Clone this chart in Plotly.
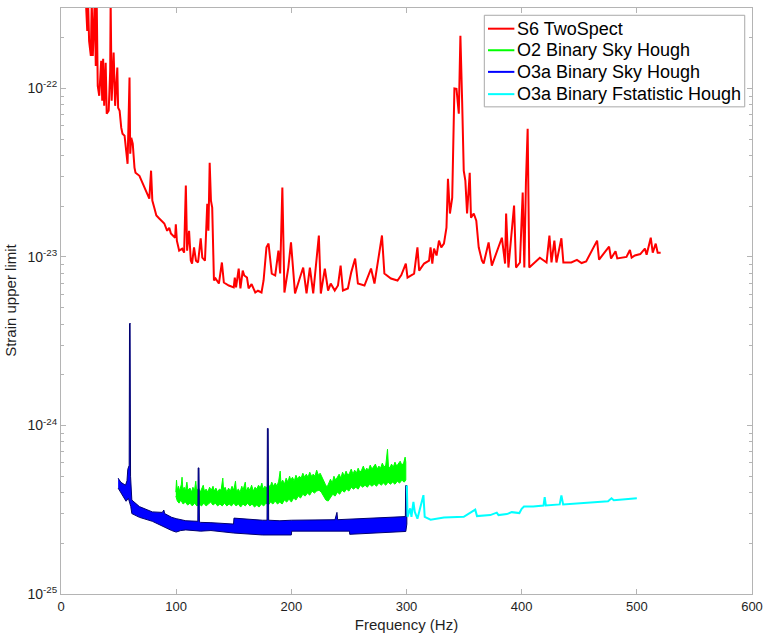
import plotly.graph_objects as go

# ---------------- S6 TwoSpect upper limits ----------------
red_freq = [20.0, 21.6, 22.8, 23.5, 24.4, 25.9, 26.7, 27.6, 29.3, 30.2, 31.0, 31.9, 33.2, 34.9, 35.8,
            36.6, 37.5, 38.8, 39.7, 41.4, 42.7, 43.1, 44.0, 45.7, 47.0, 48.9, 49.6, 50.9, 52.3, 53.4,
            55.2, 56.6, 57.8, 59.5, 60.1, 61.0, 62.3, 63.8, 64.7, 68.1, 70.7, 73.9, 76.7, 78.2, 79.3,
            81.0, 82.8, 85.3, 89.7, 92.2, 94.0, 95.4, 99.1, 99.7, 100.6, 102.6, 105.2, 106.9, 108.4,
            109.5, 111.2, 112.7, 113.8, 115.5, 117.2, 119.0, 121.3, 122.7, 125.0, 127.0, 128.0, 129.1,
            130.2, 131.3, 132.8, 134.2, 137.1, 139.7, 141.4, 145.7, 150.0, 150.9, 152.0, 154.3, 155.8,
            157.8, 159.1, 161.5, 162.9, 165.5, 168.7, 171.0, 174.1, 175.9, 178.4, 180.2, 181.5, 183.0,
            186.0, 188.8, 190.3, 192.2, 194.0, 197.4, 199.7, 201.7, 203.2, 207.5, 210.3, 213.2, 216.1,
            219.0, 221.6, 223.9, 225.6, 229.1, 231.9, 234.2, 237.7, 240.5, 242.8, 244.8, 249.1, 252.0,
            255.4, 257.8, 263.5, 269.2, 272.2, 278.7, 280.8, 286.5, 292.2, 295.5, 299.4, 300.9, 306.6,
            309.5, 311.0, 315.3, 319.6, 320.9, 322.4, 323.9, 326.1, 328.2, 330.2, 332.5, 334.7, 336.0,
            337.7, 339.7, 341.6, 343.4, 345.4, 346.8, 348.3, 349.7, 351.1, 352.6, 354.9, 356.0, 358.4,
            360.6, 362.7, 365.5, 367.0, 371.3, 374.1, 377.8, 382.8, 385.6, 386.5, 388.5, 393.4, 395.1,
            398.5, 400.9, 402.3, 403.7, 405.2, 406.6, 410.1, 415.8, 421.6, 424.1, 425.9, 428.4, 430.2,
            434.5, 436.2, 443.1, 448.0, 452.0, 456.0, 465.5, 467.2, 475.9, 477.6, 481.5, 483.0, 486.2,
            491.0, 494.0, 495.5, 498.3, 503.0, 507.0, 508.5, 512.1, 513.8, 516.4, 518.1, 520.7]
red_strain = [4.5e-22, 3.3e-22, 2.19e-22, 3.3e-22, 1.91e-22, 1.56e-22, 3.3e-22, 1.56e-22, 3.3e-22,
              1.36e-22, 3.3e-22, 1.035e-22, 9.04e-23, 1.46e-22, 8.45e-23, 1.5e-22, 7.88e-23, 1.42e-22,
              7.08e-23, 7.37e-23, 1.27e-22, 3.3e-22, 8.45e-23, 1.63e-22, 7.88e-23, 1.33e-22, 7.68e-23,
              7.37e-23, 5.85e-23, 5.38e-23, 5.24e-23, 4.1e-23, 3.57e-23, 1.16e-22, 4.1e-23, 5.1e-23,
              4.7e-23, 3.39e-23, 3.16e-23, 3.03e-23, 2.76e-23, 2.47e-23, 2.22e-23, 3.25e-23, 2.16e-23,
              1.96e-23, 1.76e-23, 1.69e-23, 1.58e-23, 1.43e-23, 1.49e-23, 1.38e-23, 1.30e-23, 1.56e-23,
              1.25e-23, 1.09e-23, 1.12e-23, 1.06e-23, 2.65e-23, 1.09e-23, 1.43e-23, 9.52e-24, 9.14e-24,
              1.14e-23, 9.5e-24, 9.27e-24, 1.29e-23, 9.9e-24, 9.5e-24, 2.07e-23, 1.43e-23, 3.62e-23,
              2.16e-23, 1.96e-23, 7.25e-24, 7.45e-24, 6.95e-24, 9.27e-24, 7.05e-24, 6.77e-24, 6.6e-24,
              7.55e-24, 6.6e-24, 8.53e-24, 6.5e-24, 8.3e-24, 7.76e-24, 7.55e-24, 6.5e-24, 6.9e-24,
              6.15e-24, 6.3e-24, 6.15e-24, 7.25e-24, 1.14e-23, 1.2e-23, 1.02e-23, 7.97e-24, 7.76e-24,
              1.09e-23, 7.97e-24, 2.58e-23, 6.15e-24, 8.65e-24, 1.22e-23, 8.65e-24, 6.07e-24, 7.55e-24,
              8.65e-24, 6.07e-24, 8.65e-24, 6.07e-24, 9.52e-24, 1.34e-23, 6.07e-24, 8.53e-24, 6.32e-24,
              6.95e-24, 6.32e-24, 6.77e-24, 8.89e-24, 6.32e-24, 6.5e-24, 8.1e-24, 9.79e-24, 6.95e-24,
              6.77e-24, 8.53e-24, 6.95e-24, 1.34e-23, 7.97e-24, 7.45e-24, 7.25e-24, 7.8e-24, 9.14e-24,
              7.55e-24, 7.97e-24, 1.14e-23, 8.3e-24, 9.14e-24, 9.52e-24, 1.14e-23, 9.14e-24, 1.12e-23,
              1.02e-23, 1.25e-23, 1.14e-23, 1.2e-23, 1.49e-23, 2.91e-23, 1.81e-23, 2.25e-23, 1.0e-22,
              9.95e-23, 7.08e-23, 2.05e-22, 8.45e-23, 3.25e-23, 2.84e-23, 1.81e-23, 3.16e-23, 1.71e-23,
              1.81e-23, 1.64e-23, 1.14e-23, 9.52e-24, 9.14e-24, 1.22e-23, 8.89e-24, 1.047e-23, 1.30e-23,
              9.14e-24, 1.81e-23, 8.65e-24, 2.02e-23, 8.65e-24, 9.27e-24, 2.41e-23, 8.65e-24, 2.76e-23,
              5.77e-23, 8.65e-24, 9.14e-24, 9.9e-24, 9.27e-24, 1.34e-23, 9.27e-24, 1.25e-23, 9.27e-24,
              1.29e-23, 9.27e-24, 9.27e-24, 9.6e-24, 9.2e-24, 9.4e-24, 1.25e-23, 9.65e-24, 1.15e-23,
              9.79e-24, 1.08e-23, 9.8e-24, 9.9e-24, 1.0e-23, 1.1e-23, 9.9e-24, 1.02e-23, 1.04e-23,
              1.12e-23, 1.03e-23, 1.30e-23, 1.06e-23, 1.2e-23, 1.06e-23, 1.06e-23]

# ---------------- O2 Binary Sky Hough (band: upper / lower edge) ----------------
green_top_freq = [99.7, 100.3, 101, 102, 103, 104.5, 105.1, 105.8, 107, 108, 109.3, 110.2, 112, 113.5,
                  114.5, 116, 117, 117.8, 119.5, 121, 122, 123.5, 124.5, 126, 127.5, 129, 130.5, 132,
                  133, 134.5, 136, 137.5, 139, 140.5, 141.2, 142.5, 144, 145.5, 147, 148.5, 150, 151.5,
                  152.3, 154, 155.5, 157, 158, 160, 160.8, 162.5, 164, 165.5, 167, 168.5, 170, 171.5,
                  173, 174.4, 175.5, 177, 178.5, 180, 181.5, 183, 184.5, 186, 187.5, 189, 190.3, 191,
                  192.5, 194, 195.5, 197, 198.5, 199.5, 201, 202.5, 204, 205.5, 207, 208.5, 210, 211.5,
                  213, 214.5, 216, 217.5, 219, 220.5, 222, 223.5, 225, 226.5, 228, 229.5, 231, 232.5,
                  234, 235.5, 237, 238.5, 240, 241.5, 243, 244.5, 246, 247.5, 249, 250.5, 252, 253.5,
                  255, 256.5, 258, 259.5, 261, 262.5, 264, 265.5, 267, 268.5, 270, 271.5, 273, 274.5,
                  276, 277.5, 279, 280.5, 282, 283.5, 284.3, 285.5, 287, 288.5, 290, 291.5, 293, 294.5,
                  296, 297.5, 298.8, 299.4]
green_top = [4.02e-25, 4.74e-25, 4.13e-25, 4.36e-25, 4.08e-25, 4.48e-25, 4.93e-25, 4.19e-25, 4.30e-25,
             4.08e-25, 4.61e-25, 4.13e-25, 4.25e-25, 4.02e-25, 4.30e-25, 4.13e-25, 4.67e-25, 4.08e-25,
             4.25e-25, 4.02e-25, 4.19e-25, 4.42e-25, 4.08e-25, 4.19e-25, 4.02e-25, 4.30e-25, 4.13e-25,
             4.36e-25, 4.08e-25, 4.25e-25, 4.02e-25, 4.19e-25, 4.13e-25, 4.87e-25, 4.13e-25, 4.30e-25,
             4.02e-25, 4.25e-25, 4.08e-25, 4.36e-25, 4.13e-25, 4.67e-25, 4.08e-25, 4.19e-25, 4.02e-25,
             4.36e-25, 4.13e-25, 4.61e-25, 4.08e-25, 4.30e-25, 4.13e-25, 4.42e-25, 4.08e-25, 4.30e-25,
             4.19e-25, 4.42e-25, 4.25e-25, 4.55e-25, 4.19e-25, 4.36e-25, 4.25e-25, 4.48e-25, 4.30e-25,
             4.61e-25, 4.36e-25, 4.55e-25, 4.36e-25, 4.67e-25, 5.36e-25, 4.55e-25, 4.74e-25, 4.48e-25,
             4.87e-25, 4.61e-25, 5.00e-25, 4.74e-25, 4.93e-25, 4.67e-25, 5.07e-25, 4.80e-25, 5.00e-25,
             4.87e-25, 5.21e-25, 4.93e-25, 5.14e-25, 4.93e-25, 5.28e-25, 5.00e-25, 5.14e-25, 5.00e-25,
             5.43e-25, 5.07e-25, 5.21e-25, 4.93e-25, 4.67e-25, 4.48e-25, 4.30e-25, 4.61e-25, 4.80e-25,
             4.55e-25, 5.00e-25, 4.74e-25, 4.93e-25, 5.14e-25, 4.87e-25, 5.28e-25, 5.00e-25, 5.36e-25,
             5.07e-25, 5.21e-25, 5.51e-25, 5.14e-25, 5.43e-25, 5.21e-25, 5.58e-25, 5.28e-25, 5.43e-25,
             5.74e-25, 5.36e-25, 5.58e-25, 5.43e-25, 5.82e-25, 5.51e-25, 5.66e-25, 5.90e-25, 5.51e-25,
             5.74e-25, 5.58e-25, 5.98e-25, 5.66e-25, 5.82e-25, 7.23e-25, 5.74e-25, 5.58e-25, 5.90e-25,
             5.66e-25, 6.06e-25, 5.74e-25, 5.90e-25, 6.14e-25, 5.82e-25, 5.98e-25, 6.49e-25, 6.06e-25]
green_bot_freq = [99.7, 101, 102.5, 104, 106, 108, 110, 112, 114, 116, 118, 120, 122, 124, 126, 128,
                  130, 132, 134, 136, 138, 140, 142, 144, 146, 148, 150, 152, 154, 156, 158, 160, 162,
                  164, 166, 168, 170, 172, 174, 176, 178, 180, 182, 184, 186, 188, 190, 192, 194, 196,
                  198, 200, 202, 204, 206, 208, 210, 212, 214, 216, 218, 220, 222, 224, 226, 228, 230,
                  232, 234, 236, 238, 240, 242, 244, 246, 248, 250, 252, 254, 256, 258, 260, 262, 264,
                  266, 268, 270, 272, 274, 276, 278, 280, 282, 284, 286, 288, 290, 292, 294, 296, 298,
                  299.4]
green_bot = [3.81e-25, 3.56e-25, 3.46e-25, 3.61e-25, 3.42e-25, 3.51e-25, 3.37e-25, 3.46e-25, 3.33e-25,
             3.46e-25, 3.33e-25, 3.42e-25, 3.33e-25, 3.46e-25, 3.33e-25, 3.42e-25, 3.51e-25, 3.37e-25,
             3.46e-25, 3.33e-25, 3.42e-25, 3.33e-25, 3.46e-25, 3.33e-25, 3.42e-25, 3.33e-25, 3.46e-25,
             3.33e-25, 3.42e-25, 3.28e-25, 3.42e-25, 3.33e-25, 3.46e-25, 3.33e-25, 3.42e-25, 3.28e-25,
             3.37e-25, 3.28e-25, 3.42e-25, 3.33e-25, 3.46e-25, 3.37e-25, 3.51e-25, 3.42e-25, 3.56e-25,
             3.42e-25, 3.51e-25, 3.42e-25, 3.61e-25, 3.51e-25, 3.66e-25, 3.51e-25, 3.71e-25, 3.61e-25,
             3.81e-25, 3.71e-25, 3.91e-25, 3.81e-25, 3.97e-25, 3.86e-25, 4.08e-25, 3.97e-25, 4.08e-25,
             4.13e-25, 4.02e-25, 3.81e-25, 3.61e-25, 3.56e-25, 3.76e-25, 3.91e-25, 3.81e-25, 4.02e-25,
             3.91e-25, 4.13e-25, 4.02e-25, 4.19e-25, 4.08e-25, 4.30e-25, 4.19e-25, 4.30e-25, 4.19e-25,
             4.42e-25, 4.30e-25, 4.42e-25, 4.30e-25, 4.48e-25, 4.36e-25, 4.48e-25, 4.36e-25, 4.55e-25,
             4.42e-25, 4.55e-25, 4.42e-25, 4.61e-25, 4.48e-25, 4.61e-25, 4.48e-25, 4.67e-25, 4.55e-25,
             4.74e-25, 4.61e-25, 4.74e-25]

# ---------------- O3a Binary Sky Hough (band: upper / lower edge) ----------------
blue_top_freq = [49.6, 52.0, 56.0, 57.3, 58.0, 59.2, 59.5, 60.0, 60.4, 61.0, 61.5, 68.1, 79.3, 88.0,
                 89.3, 90.0, 96.1, 100.0, 108.4, 118.8, 119.1, 119.8, 120.2, 121.3, 130.2, 149.8,
                 150.2, 175.0, 178.9, 179.2, 179.9, 180.3, 190.1, 200.0, 237.9, 239.6, 240.2, 299.0,
                 299.3, 300.3]
blue_top = [4.87e-25, 4.60e-25, 4.42e-25, 4.70e-25, 5.50e-25, 5.80e-25, 4.0e-24, 4.05e-24, 5.0e-25,
            4.0e-25, 3.61e-25, 3.30e-25, 3.07e-25, 3.05e-25, 3.15e-25, 3.00e-25, 2.85e-25, 2.80e-25,
            2.72e-25, 2.70e-25, 5.6e-25, 5.6e-25, 2.68e-25, 2.66e-25, 2.65e-25, 2.60e-25, 2.82e-25,
            2.74e-25, 2.74e-25, 9.6e-25, 9.6e-25, 2.74e-25, 2.72e-25, 2.74e-25, 2.76e-25, 3.05e-25,
            2.76e-25, 2.88e-25, 4.4e-25, 4.4e-25]
blue_bot_freq = [49.6, 53.0, 56.5, 58.5, 60.6, 61.5, 68.1, 79.3, 89.7, 96.1, 100.0, 104.0, 108.4,
                 121.3, 130.2, 150.0, 175.0, 200.0, 200.3, 250.5, 250.7, 299.4, 300.3]
blue_bot = [4.25e-25, 3.90e-25, 3.55e-25, 3.70e-25, 3.30e-25, 3.00e-25, 2.85e-25, 2.70e-25, 2.50e-25,
            2.38e-25, 2.33e-25, 2.38e-25, 2.40e-25, 2.36e-25, 2.38e-25, 2.30e-25, 2.24e-25, 2.24e-25,
            2.36e-25, 2.36e-25, 2.26e-25, 2.35e-25, 2.60e-25]

# ---------------- O3a Binary Fstatistic Hough ----------------
cyan_freq = [300.3, 300.9, 303.2, 304.3, 306.0, 307.2, 309.5, 314.7, 315.8, 320.9, 332.5, 349.7, 359.7,
             361.2, 372.7, 378.4, 379.9, 387.1, 391.4, 395.7, 398.0, 400.0, 402.0, 410.0, 419.0, 420.0,
             421.0, 433.0, 434.5, 436.0, 450.0, 465.0, 475.0, 478.0, 480.0, 490.0, 500.0]
cyan_strain = [4.4e-25, 2.87e-25, 3.22e-25, 2.87e-25, 3.52e-25, 3.07e-25, 2.80e-25, 3.86e-25, 2.87e-25,
               2.76e-25, 2.84e-25, 2.87e-25, 3.17e-25, 2.90e-25, 2.94e-25, 3.04e-25, 2.94e-25, 2.98e-25,
               3.06e-25, 3.02e-25, 3.02e-25, 3.20e-25, 3.30e-25, 3.30e-25, 3.35e-25, 3.75e-25, 3.35e-25,
               3.40e-25, 3.85e-25, 3.40e-25, 3.45e-25, 3.50e-25, 3.55e-25, 3.70e-25, 3.60e-25, 3.65e-25,
               3.70e-25]

series_names = ["S6 TwoSpect", "O2 Binary Sky Hough", "O3a Binary Sky Hough",
                "O3a Binary Fstatistic Hough"]
series_colors = ["#ff0000", "#00ff00", "#0000ff", "#00ffff"]

x_ticks = [0, 100, 200, 300, 400, 500, 600]
y_ticks = [1e-25, 1e-24, 1e-23, 1e-22]
y_tick_text = ["10<sup>-25</sup>", "10<sup>-24</sup>", "10<sup>-23</sup>", "10<sup>-22</sup>"]

FONT = "Liberation Sans, Arial, Helvetica, sans-serif"
AXIS_GRAY = "#b4b4b4"
TEXT = "#1f1f1f"

fig = go.Figure()

fig.add_trace(go.Scatter(x=red_freq, y=red_strain, mode="lines", name=series_names[0],
                         line=dict(color=series_colors[0], width=2), hoverinfo="skip"))

fig.add_trace(go.Scatter(x=green_top_freq + green_bot_freq[::-1],
                         y=green_top + green_bot[::-1], mode="lines", fill="toself",
                         name=series_names[1], fillcolor=series_colors[1],
                         line=dict(color=series_colors[1], width=1), hoverinfo="skip"))

fig.add_trace(go.Scatter(x=blue_top_freq + blue_bot_freq[::-1],
                         y=blue_top + blue_bot[::-1], mode="lines", fill="toself",
                         name=series_names[2], fillcolor=series_colors[2],
                         line=dict(color="#000070", width=1), hoverinfo="skip"))

fig.add_trace(go.Scatter(x=cyan_freq, y=cyan_strain, mode="lines", name=series_names[3],
                         line=dict(color=series_colors[3], width=2), hoverinfo="skip"))

# Boxed legend in the upper-right corner (paper coordinates)
LEG_X0, LEG_X1, LEG_Y0, LEG_Y1 = 0.6126, 0.9895, 0.8313, 0.9876
LEG_LINE_X0, LEG_LINE_X1, LEG_TEXT_X = 0.6179, 0.6561, 0.6571
LEG_ROWS = [0.9647, 0.9279, 0.8910, 0.8530]

shapes = [dict(type="rect", xref="paper", yref="paper", x0=LEG_X0, x1=LEG_X1, y0=LEG_Y0, y1=LEG_Y1,
               line=dict(color="#a8a8a8", width=1), fillcolor="white", layer="above")]
annotations = []
for name, color, row in zip(series_names, series_colors, LEG_ROWS):
    shapes.append(dict(type="line", xref="paper", yref="paper", x0=LEG_LINE_X0, x1=LEG_LINE_X1,
                       y0=row, y1=row, line=dict(color=color, width=2), layer="above"))
    annotations.append(dict(xref="paper", yref="paper", x=LEG_TEXT_X, y=row, text=name,
                            showarrow=False, xanchor="left", yanchor="middle",
                            font=dict(family=FONT, size=18, color="#000000")))

# y-axis title, placed close to the left edge
annotations.append(dict(xref="paper", yref="paper", x=-0.0732, y=0.501, text="Strain upper limit",
                        textangle=-90, showarrow=False, xanchor="center", yanchor="middle",
                        font=dict(family=FONT, size=15, color=TEXT)))

fig.update_layout(
    width=770, height=637,
    margin=dict(l=61, r=12, t=7, b=43),
    paper_bgcolor="white", plot_bgcolor="white",
    font=dict(family=FONT, color=TEXT),
    showlegend=False,
    shapes=shapes, annotations=annotations,
)

fig.update_xaxes(
    range=[0, 600], tickvals=x_ticks, ticks="inside", ticklen=5, tickcolor=AXIS_GRAY,
    showline=True, linecolor=AXIS_GRAY, linewidth=1, mirror="ticks",
    showgrid=False, zeroline=False, tickfont=dict(size=13, color=TEXT),
    title=dict(text="Frequency (Hz)", font=dict(size=15, color=TEXT), standoff=6),
)

fig.update_yaxes(
    type="log", range=[-25, -21.5229], tickvals=y_ticks, ticktext=y_tick_text,
    ticks="inside", ticklen=5, tickcolor=AXIS_GRAY,
    minor=dict(ticks="inside", ticklen=3, tickcolor=AXIS_GRAY, dtick="D1", showgrid=False),
    showline=True, linecolor=AXIS_GRAY, linewidth=1, mirror="ticks",
    showgrid=False, zeroline=False, tickfont=dict(size=14, color=TEXT),
)

fig.write_html("out.html")
